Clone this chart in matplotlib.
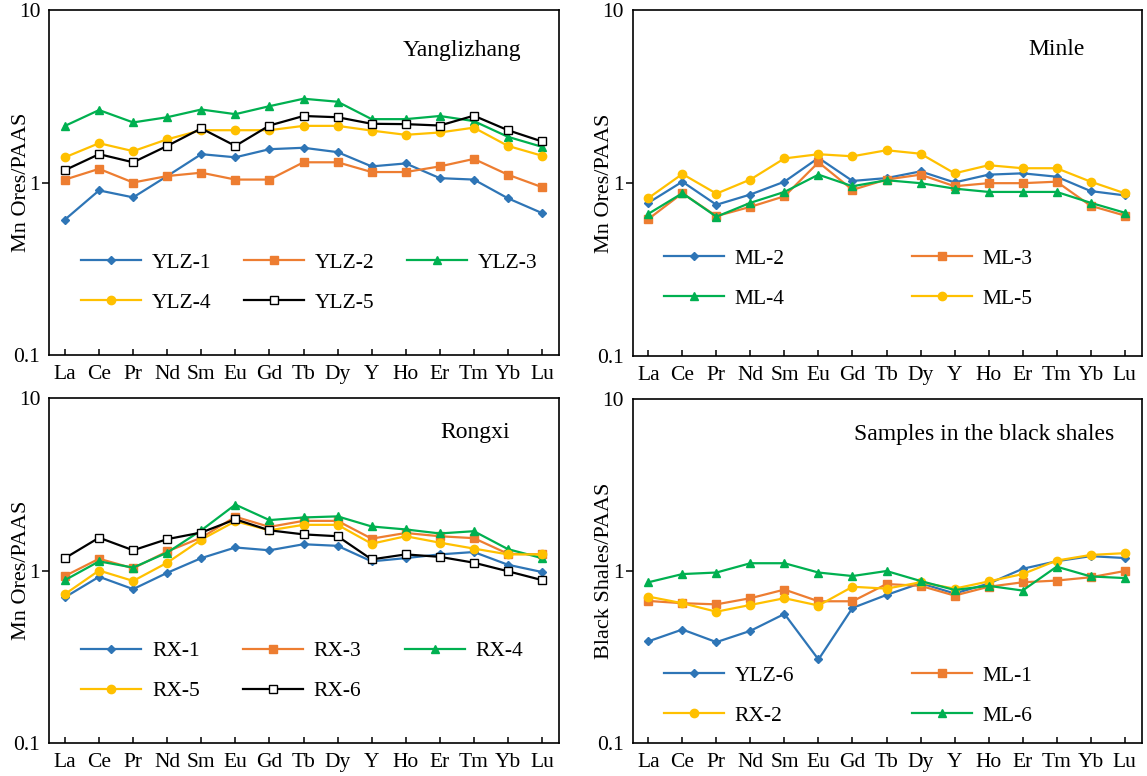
import matplotlib
matplotlib.use('Agg')
import matplotlib.pyplot as plt

plt.rcParams['font.family'] = ['Liberation Serif', 'DejaVu Serif']

ree = ['La', 'Ce', 'Pr', 'Nd', 'Sm', 'Eu', 'Gd', 'Tb', 'Dy', 'Y', 'Ho', 'Er', 'Tm', 'Yb', 'Lu']

# Yanglizhang Mn ores
ylz1 = [0.61, 0.90, 0.82, 1.09, 1.46, 1.40, 1.56, 1.59, 1.50, 1.24, 1.29, 1.06, 1.04, 0.81, 0.665]
ylz2 = [1.04, 1.20, 1.00, 1.09, 1.14, 1.04, 1.04, 1.31, 1.31, 1.15, 1.15, 1.24, 1.37, 1.11, 0.94]
ylz3 = [2.13, 2.63, 2.23, 2.39, 2.65, 2.49, 2.77, 3.06, 2.94, 2.33, 2.33, 2.43, 2.27, 1.84, 1.61]
ylz4 = [1.40, 1.69, 1.52, 1.78, 2.01, 2.01, 2.01, 2.13, 2.13, 2.00, 1.89, 1.95, 2.08, 1.63, 1.43]
ylz5 = [1.18, 1.46, 1.31, 1.63, 2.06, 1.63, 2.14, 2.43, 2.39, 2.19, 2.18, 2.14, 2.44, 2.01, 1.73]

# Minle Mn ores
ml2 = [0.77, 1.02, 0.75, 0.86, 1.02, 1.40, 1.03, 1.07, 1.17, 1.01, 1.12, 1.14, 1.09, 0.90, 0.85]
ml3 = [0.62, 0.875, 0.645, 0.73, 0.84, 1.32, 0.915, 1.05, 1.12, 0.96, 1.00, 1.00, 1.02, 0.74, 0.65]
ml4 = [0.665, 0.875, 0.64, 0.77, 0.89, 1.12, 0.96, 1.04, 1.00, 0.93, 0.89, 0.89, 0.89, 0.77, 0.675]
ml5 = [0.82, 1.13, 0.87, 1.05, 1.39, 1.47, 1.43, 1.55, 1.48, 1.14, 1.27, 1.22, 1.22, 1.02, 0.875]

# Rongxi Mn ores
rx1 = [0.70, 0.92, 0.78, 0.97, 1.18, 1.36, 1.31, 1.42, 1.39, 1.13, 1.18, 1.24, 1.28, 1.08, 0.98]
rx3 = [0.93, 1.17, 1.03, 1.29, 1.55, 2.05, 1.79, 1.94, 1.94, 1.53, 1.65, 1.58, 1.54, 1.25, 1.24]
rx4 = [0.88, 1.13, 1.04, 1.27, 1.71, 2.41, 1.96, 2.03, 2.06, 1.80, 1.73, 1.64, 1.69, 1.33, 1.18]
rx5 = [0.73, 1.00, 0.87, 1.11, 1.51, 1.93, 1.71, 1.84, 1.84, 1.43, 1.58, 1.45, 1.34, 1.24, 1.24]
rx6 = [1.18, 1.55, 1.31, 1.52, 1.66, 1.98, 1.71, 1.62, 1.58, 1.16, 1.24, 1.20, 1.11, 0.99, 0.88]

# black shale samples
ylz6 = [0.39, 0.457, 0.386, 0.449, 0.563, 0.306, 0.61, 0.726, 0.85, 0.74, 0.845, 1.03, 1.14, 1.22, 1.19]
ml1 = [0.67, 0.65, 0.64, 0.695, 0.78, 0.667, 0.667, 0.84, 0.82, 0.72, 0.81, 0.86, 0.88, 0.92, 1.00]
rx2 = [0.71, 0.65, 0.58, 0.635, 0.695, 0.63, 0.81, 0.79, 0.86, 0.79, 0.87, 0.96, 1.15, 1.24, 1.27]
ml6 = [0.86, 0.96, 0.98, 1.11, 1.11, 0.98, 0.935, 1.00, 0.875, 0.776, 0.82, 0.77, 1.06, 0.93, 0.91]

styles = {
    'blue': dict(color='#2E75B6', marker='D', ms=3.8, mfc='#2E75B6', mec='#2E75B6'),
    'orange': dict(color='#ED7D31', marker='s', ms=5.8, mfc='#ED7D31', mec='#ED7D31'),
    'green': dict(color='#00B050', marker='^', ms=6, mfc='#00B050', mec='#00B050'),
    'yellow': dict(color='#FFC000', marker='o', ms=6, mfc='#FFC000', mec='#FFC000'),
    'black': dict(color='black', marker='s', ms=5.5, mfc='white', mec='black', mew=1.0),
}

fs = 15.5


def draw_panel(ax, series, order, title, ylabel, ncol, leg_xy, colspace):
    x = list(range(len(ree)))
    handles = {}
    for name, vals, key in series:
        ln, = ax.plot(x, vals, lw=1.6, label=name, **styles[key])
        handles[name] = ln
    ax.set_yscale('log')
    ax.set_ylim(0.1, 10)
    ax.set_xlim(-0.46, 14.5)
    ax.set_xticks(x)
    ax.set_xticklabels(ree, fontsize=fs)
    ax.set_yticks([0.1, 1, 10])
    ax.set_yticklabels(['0.1', '1', '10'], fontsize=fs)
    ax.minorticks_off()
    ax.tick_params(axis='x', direction='in', length=4, width=1.1, pad=7)
    ax.tick_params(axis='y', direction='out', length=5, width=1.1, pad=1.5)
    yt = ax.yaxis.get_major_ticks()
    yt[0].tick1line.set_visible(False)
    yt[-1].tick1line.set_visible(False)
    for sp in ax.spines.values():
        sp.set_linewidth(1.2)
    ax.set_ylabel(ylabel, fontsize=16)
    ax.yaxis.set_label_coords(-0.036, 0.5)
    ax.text(title[1], title[2], title[0], transform=ax.transAxes, fontsize=17,
            ha='right', va='center')
    ax.legend([handles[n] for n in order], order, loc='upper left',
              bbox_to_anchor=leg_xy, ncol=ncol, frameon=False, fontsize=fs,
              borderpad=0, borderaxespad=0, handlelength=2.8, handletextpad=0.5,
              labelspacing=0.92, columnspacing=colspace)


fig = plt.figure(figsize=(11.47, 7.76), dpi=100)
ax1 = fig.add_axes([0.043, 0.5425, 0.4444, 0.4446])
ax2 = fig.add_axes([0.5516, 0.541, 0.4438, 0.4459])
ax3 = fig.add_axes([0.043, 0.0425, 0.4444, 0.4446])
ax4 = fig.add_axes([0.5516, 0.0425, 0.4438, 0.4433])

draw_panel(ax1,
           [('YLZ-1', ylz1, 'blue'), ('YLZ-2', ylz2, 'orange'), ('YLZ-3', ylz3, 'green'),
            ('YLZ-4', ylz4, 'yellow'), ('YLZ-5', ylz5, 'black')],
           ['YLZ-1', 'YLZ-4', 'YLZ-2', 'YLZ-5', 'YLZ-3'],
           ('Yanglizhang', 0.925, 0.882), 'Mn Ores/PAAS', 3, (0.062, 0.296), 1.5)

draw_panel(ax2,
           [('ML-2', ml2, 'blue'), ('ML-3', ml3, 'orange'), ('ML-4', ml4, 'green'),
            ('ML-5', ml5, 'yellow')],
           ['ML-2', 'ML-4', 'ML-3', 'ML-5'],
           ('Minle', 0.888, 0.8875), 'Mn Ores/PAAS', 2, (0.061, 0.311), 5.9)

draw_panel(ax3,
           [('RX-1', rx1, 'blue'), ('RX-3', rx3, 'orange'), ('RX-4', rx4, 'green'),
            ('RX-5', rx5, 'yellow'), ('RX-6', rx6, 'black')],
           ['RX-1', 'RX-5', 'RX-3', 'RX-6', 'RX-4'],
           ('Rongxi', 0.904, 0.90), 'Mn Ores/PAAS', 3, (0.062, 0.295), 2.0)

draw_panel(ax4,
           [('YLZ-6', ylz6, 'blue'), ('ML-1', ml1, 'orange'), ('RX-2', rx2, 'yellow'),
            ('ML-6', ml6, 'green')],
           ['YLZ-6', 'RX-2', 'ML-1', 'ML-6'],
           ('Samples in the black shales', 0.946, 0.898), 'Black Shales/PAAS', 2,
           (0.061, 0.224), 5.45)

fig.savefig('out.png', dpi=100)
